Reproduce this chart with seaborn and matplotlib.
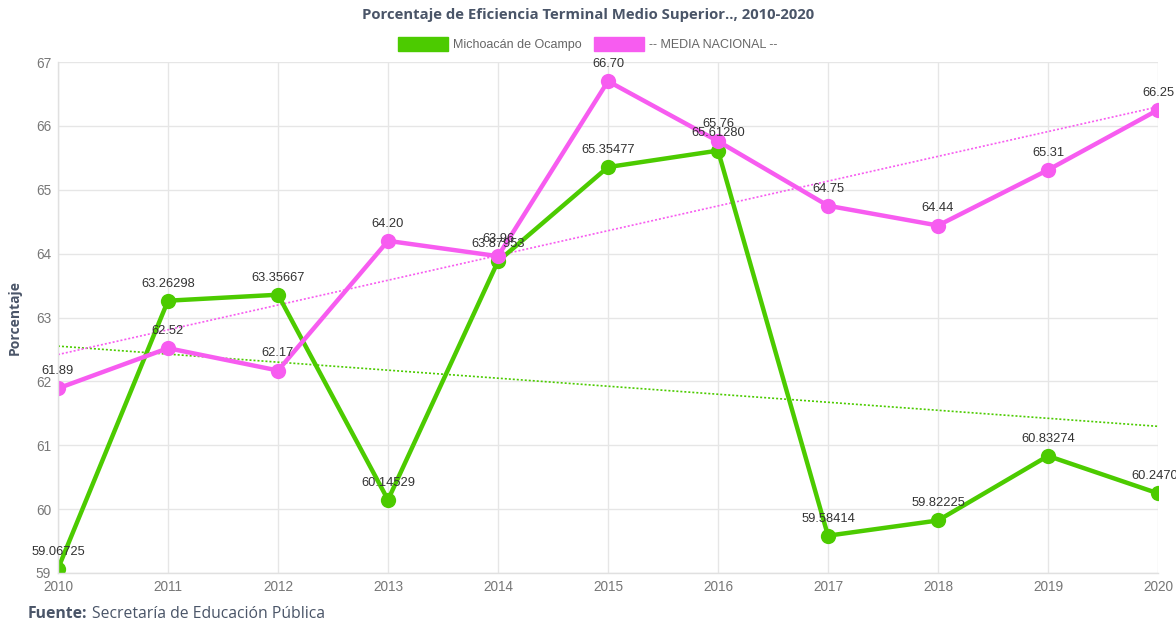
import numpy as np
import pandas as pd
import matplotlib
matplotlib.use("Agg")
import matplotlib.pyplot as plt
from matplotlib.patches import Patch
import seaborn as sns

sns.set_theme(style="whitegrid")
plt.rcParams['font.family'] = ['Liberation Sans', 'DejaVu Sans']

years = [2010, 2011, 2012, 2013, 2014, 2015, 2016, 2017, 2018, 2019, 2020]
michoacan = [59.06725, 63.26298, 63.35667, 60.14529, 63.87953, 65.35477,
             65.61280, 59.58414, 59.82225, 60.83274, 60.24700]
media_nacional = [61.89, 62.52, 62.17, 64.20, 63.96, 66.70,
                  65.76, 64.75, 64.44, 65.31, 66.25]
series_names = ["Michoacán de Ocampo", "-- MEDIA NACIONAL --"]
colors = ["#4ccb00", "#f75cf0"]

df = pd.DataFrame({
    "Año": years * 2,
    "Porcentaje": michoacan + media_nacional,
    "Serie": [series_names[0]] * len(years) + [series_names[1]] * len(years),
})

fig = plt.figure(figsize=(11.76, 6.24), dpi=100)
ax = fig.add_axes([58 / 1176, 51 / 624, 1100 / 1176, 511 / 624])

# trend lines first (under the series)
for name, vals, c in [(series_names[0], michoacan, colors[0]),
                      (series_names[1], media_nacional, colors[1])]:
    sns.regplot(x=years, y=vals, ax=ax, scatter=False, ci=None, truncate=True,
                line_kws=dict(color=c, lw=1.2, ls=(0, (1.2, 1.2))))

sns.lineplot(data=df, x="Año", y="Porcentaje", hue="Serie", palette=colors,
             marker="o", markersize=11, markeredgewidth=0, linewidth=3.2,
             ax=ax, legend=False)

# point labels
for vals, fmt in [(media_nacional, "{:.2f}"), (michoacan, "{:.5f}")]:
    for x, y in zip(years, vals):
        ax.annotate(fmt.format(y), (x, y), xytext=(0, 8), textcoords="offset points",
                    ha="center", va="bottom", fontsize=9.3, color="#333333",
                    annotation_clip=False)

ax.set_xlim(2010, 2020)
ax.set_ylim(59, 67)
ax.set_xticks(years)
ax.set_yticks(range(59, 68))
ax.tick_params(axis="both", labelsize=9.8, colors="#777777", length=0, pad=5)
ax.set_xlabel("")
ax.set_ylabel("Porcentaje", fontsize=10, fontweight="bold", color="#4a5568",
              family=["Open Sans", "DejaVu Sans"], labelpad=10)
ax.grid(True, color="#e6e6e6", lw=1)
for side in ["top", "right"]:
    ax.spines[side].set_visible(False)
for side in ["left", "bottom"]:
    ax.spines[side].set_color("#e0e0e0")
    ax.spines[side].set_linewidth(1)

fig.text(0.5, 1 - 15 / 624, "Porcentaje de Eficiencia Terminal Medio Superior.., 2010-2020",
         ha="center", va="center", fontsize=10.7, fontweight="bold", color="#4a5568",
         family=["Open Sans", "DejaVu Sans"])

handles = [Patch(facecolor=c, edgecolor=c) for c in colors]
fig.legend(handles, series_names, loc="center", bbox_to_anchor=(0.5, 1 - 44 / 624),
           ncol=2, frameon=False, fontsize=9, labelcolor="#666666",
           handlelength=4, handleheight=1.3, handletextpad=0.4, columnspacing=1.0)

fig.text(28 / 1176, 1 - 614 / 624, "Fuente:", ha="left", va="center", fontsize=11.3,
         fontweight="bold", color="#4a5568", family=["Open Sans", "DejaVu Sans"])
fig.text(92 / 1176, 1 - 614 / 624, "Secretaría de Educación Pública", ha="left",
         va="center", fontsize=11.3, color="#4a5568", family=["Open Sans", "DejaVu Sans"])

fig.savefig("out.png", dpi=100)
